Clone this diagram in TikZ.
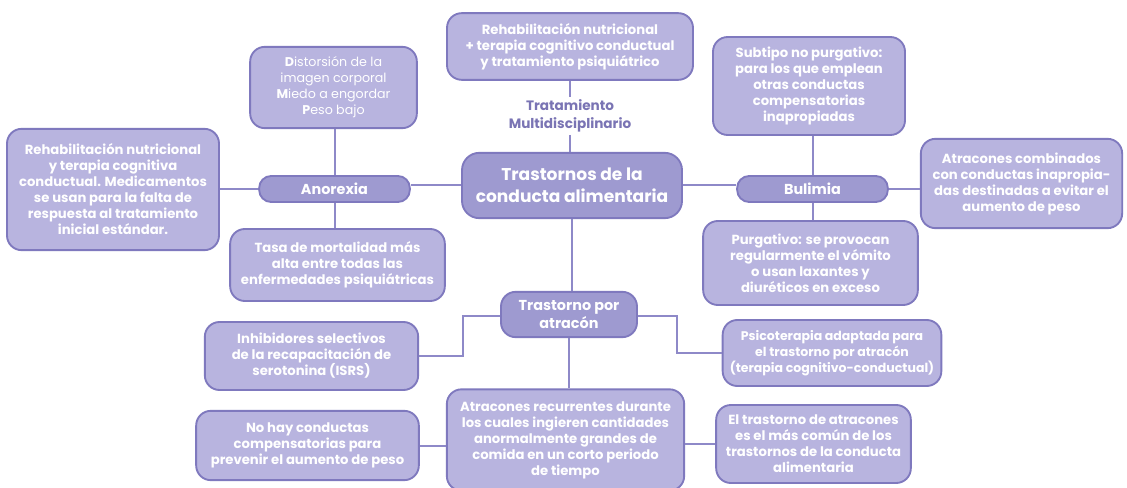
\documentclass[tikz,border=0pt]{standalone}
\usepackage{fontspec}
\setmainfont{Poppins}
\definecolor{boxc}{HTML}{B8B4DF}
\definecolor{darkc}{HTML}{9E9AD0}
\definecolor{bord}{HTML}{7F79BE}
\definecolor{linec}{HTML}{8E89C8}
\definecolor{lblc}{HTML}{7A74B4}
\begin{document}
\begin{tikzpicture}[x=0.75pt,y=-0.75pt,
  box/.style={draw=bord, fill=boxc, line width=1.4pt, rounded corners=11pt, align=center, text=white,
    font=\bfseries\fontsize{9.9}{12}\selectfont, inner sep=0pt},
  dbox/.style={box, fill=darkc},
  conn/.style={draw=linec, line width=1.5pt}]
\fill[white] (0,0) rectangle (1127,488);
\useasboundingbox (0,0) rectangle (1127,488);

\node[box, minimum width=184.5pt, minimum height=50pt] (top) at (570,46.5)
  {Rehabilitación nutricional\\+ terapia cognitivo conductual\\y tratamiento psiquiátrico};
\node[align=center, text=lblc, font=\bfseries\fontsize{10.2}{13}\selectfont, inner sep=2pt] (lbl) at (570,116)
  {Tratamiento\\Multidisciplinario};
\node[dbox, minimum width=165pt, minimum height=49pt, font=\bfseries\fontsize{12.8}{16.5}\selectfont, rounded corners=13pt] (c) at (572,185.5)
  {Trastornos de la\\conducta alimentaria};
\node[dbox, minimum width=113pt, minimum height=19.5pt, rounded corners=9pt, font=\bfseries\fontsize{10.8}{12}\selectfont] (ano) at (334.5,189) {Anorexia};
\node[box, minimum width=125pt, minimum height=61pt, font=\fontsize{9.5}{12}\selectfont] (dis) at (333.5,87.5)
  {\textbf{D}istorsión de la\\imagen corporal\\\textbf{M}iedo a engordar\\\textbf{P}eso bajo};
\node[box, minimum width=159pt, minimum height=91pt] (lr) at (113,189.5)
  {Rehabilitación nutricional\\y terapia cognitiva\\conductual. Medicamentos\\se usan para la falta de\\respuesta al tratamiento\\inicial estándar.};
\node[box, minimum width=161pt, minimum height=54pt] (tasa) at (337.5,265)
  {Tasa de mortalidad más\\alta entre todas las\\enfermedades psiquiátricas};
\node[dbox, minimum width=113pt, minimum height=19.5pt, rounded corners=9pt, font=\bfseries\fontsize{10.8}{12}\selectfont] (bul) at (812.5,189) {Bulimia};
\node[box, minimum width=144pt, minimum height=73.5pt] (sub) at (809,86)
  {Subtipo no purgativo:\\para los que emplean\\otras conductas\\compensatorias\\inapropiadas};
\node[box, minimum width=151pt, minimum height=67pt] (ac) at (1021.5,183.5)
  {Atracones combinados\\con conductas inapropia-\\das destinadas a evitar el\\aumento de peso};
\node[box, minimum width=161pt, minimum height=63pt] (pur) at (810.5,263)
  {Purgativo: se provocan\\regularmente el vómito\\o usan laxantes y\\diuréticos en exceso};
\node[dbox, minimum width=102pt, minimum height=34pt, font=\bfseries\fontsize{10.8}{13}\selectfont] (tpa) at (569,314.5)
  {Trastorno por\\atracón};
\node[box, minimum width=160pt, minimum height=51pt] (inh) at (311.5,356)
  {Inhibidores selectivos\\de la recapacitación de\\serotonina (ISRS)};
\node[box, minimum width=164pt, minimum height=49.5pt, font=\bfseries\fontsize{9.4}{12}\selectfont] (psi) at (832,353)
  {Psicoterapia adaptada para\\el trastorno por atracón\\(terapia cognitivo-conductual)};
\node[box, minimum width=178pt, minimum height=76pt] (ar) at (565.5,440)
  {Atracones recurrentes durante\\los cuales ingieren cantidades\\anormalmente grandes de\\comida en un corto periodo\\de tiempo};
\node[box, minimum width=167pt, minimum height=52pt] (nh) at (307.5,445.5)
  {No hay conductas\\compensatorias para\\prevenir el aumento de peso};
\node[box, minimum width=146pt, minimum height=58.5pt] (et) at (813.5,444)
  {El trastorno de atracones\\es el más común de los\\trastornos de la conducta\\alimentaria};

\coordinate (lk) at (463,316);
\coordinate (rk) at (677,316);

\draw[conn] (top.south) -- (top.south |- lbl.north);
\draw[conn] (lbl.south) -- (lbl.south |- c.north);
\draw[conn] (c.west) -- (c.west -| ano.east);
\draw[conn] (ano.west) -- (ano.west -| lr.east);
\draw[conn] (ano.north) -- (ano.north |- dis.south);
\draw[conn] (ano.south) -- (ano.south |- tasa.north);
\draw[conn] (c.east) -- (c.east -| bul.west);
\draw[conn] (bul.east) -- (bul.east -| ac.west);
\draw[conn] (bul.north) -- (bul.north |- sub.south);
\draw[conn] (bul.south) -- (bul.south |- pur.north);
\draw[conn] (c.south) -- (c.south |- tpa.north);
\draw[conn] (tpa.west |- lk) -- (lk) |- (inh.east);
\draw[conn] (tpa.east |- rk) -- (rk) |- (psi.west);
\draw[conn] (tpa.south) -- (tpa.south |- ar.north);
\draw[conn] (ar.west |- nh.east) -- (nh.east);
\draw[conn] (ar.east |- et.west) -- (et.west);
\end{tikzpicture}
\end{document}
